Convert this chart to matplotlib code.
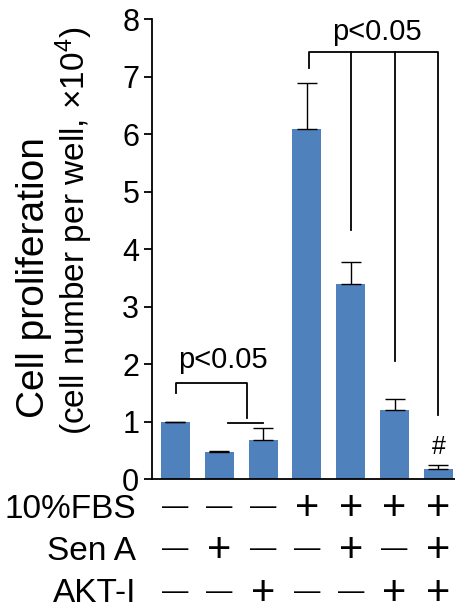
import numpy as np
import matplotlib
matplotlib.use("Agg")
import matplotlib.pyplot as plt

plt.rcParams['font.family'] = ['Liberation Sans', 'DejaVu Sans']
plt.rcParams['mathtext.fontset'] = 'custom'
plt.rcParams['mathtext.rm'] = 'Liberation Sans'
plt.rcParams['mathtext.it'] = 'Liberation Sans'

# data
means = [1.0, 0.48, 0.68, 6.1, 3.4, 1.2, 0.18]
errs = [0.0, 0.01, 0.21, 0.8, 0.38, 0.2, 0.07]
fbs = ['—', '—', '—', '+', '+', '+', '+']
sena = ['—', '+', '—', '—', '+', '—', '+']
akti = ['—', '—', '+', '—', '—', '+', '+']
row_names = ['10%FBS', 'Sen A', 'AKT-I']
yticks = [0, 1, 2, 3, 4, 5, 6, 7, 8]

x = np.arange(len(means))
blue = '#4F81BD'

fig = plt.figure(figsize=(4.56, 6.13), dpi=100)
ax = fig.add_axes([0.3327, 0.2181, 0.6673, 0.7504])

ax.bar(x, means, width=0.66, color=blue, zorder=2)
ax.errorbar(x, means, yerr=[np.zeros(len(errs)), errs], fmt='none',
            ecolor='black', elinewidth=1.0, capsize=7, capthick=1.0, zorder=3)

ax.set_xlim(-0.54, 6.4)
ax.set_ylim(0, 8)
ax.set_yticks(yticks)
ax.set_xticks([])
ax.tick_params(axis='y', direction='out', length=6, width=1.3, labelsize=22, pad=3)
for s in ['top', 'right']:
    ax.spines[s].set_visible(False)
ax.spines['left'].set_linewidth(1.3)
ax.spines['bottom'].set_linewidth(1.3)

# significance brackets (upper)
lw = 1.3
kw = dict(color='black', lw=lw, clip_on=False)
ax.plot([3.05, 3.05, 5.98, 5.98], [7.15, 7.44, 7.44, 1.12], **kw)
ax.plot([4.0, 4.0], [7.44, 4.33], **kw)
ax.plot([5.0, 5.0], [7.44, 2.06], **kw)
ax.text(4.6, 7.78, 'p<0.05', ha='center', va='center', fontsize=21)

# lower bracket
ax.plot([0.01, 0.01, 1.63, 1.63], [1.5, 1.67, 1.67, 1.06], **kw)
ax.plot([1.2, 2.0], [0.985, 0.985], **kw)
ax.text(1.09, 2.07, 'p<0.05', ha='center', va='center', fontsize=21)

ax.text(6.0, 0.57, '#', ha='center', va='center', fontsize=18)

# treatment table below the axis
row_y = [509, 551, 594]
for rname, ry, syms in zip(row_names, row_y, [fbs, sena, akti]):
    yf = 1 - ry / 613
    fig.text(136 / 456, yf, rname, ha='right', va='center', fontsize=24)
    for xi, s in zip(x, syms):
        xd = ax.transData.transform((xi, 0))[0]
        if s == '+':
            fig.text(xd / 456, yf, s, ha='center', va='center', fontsize=30)
        else:
            fig.text(xd / 456, yf + 0.004, s, ha='center', va='center', fontsize=19)

# y label, two lines
fig.text(34 / 456, 1 - 278 / 613, 'Cell proliferation', rotation=90,
         ha='center', va='center', fontsize=28)
fig.text(74.5 / 456, 1 - 231 / 613, '(cell number per well, ×10$^{4}$)',
         rotation=90, ha='center', va='center', fontsize=24)

fig.savefig('out.png', dpi=100)
